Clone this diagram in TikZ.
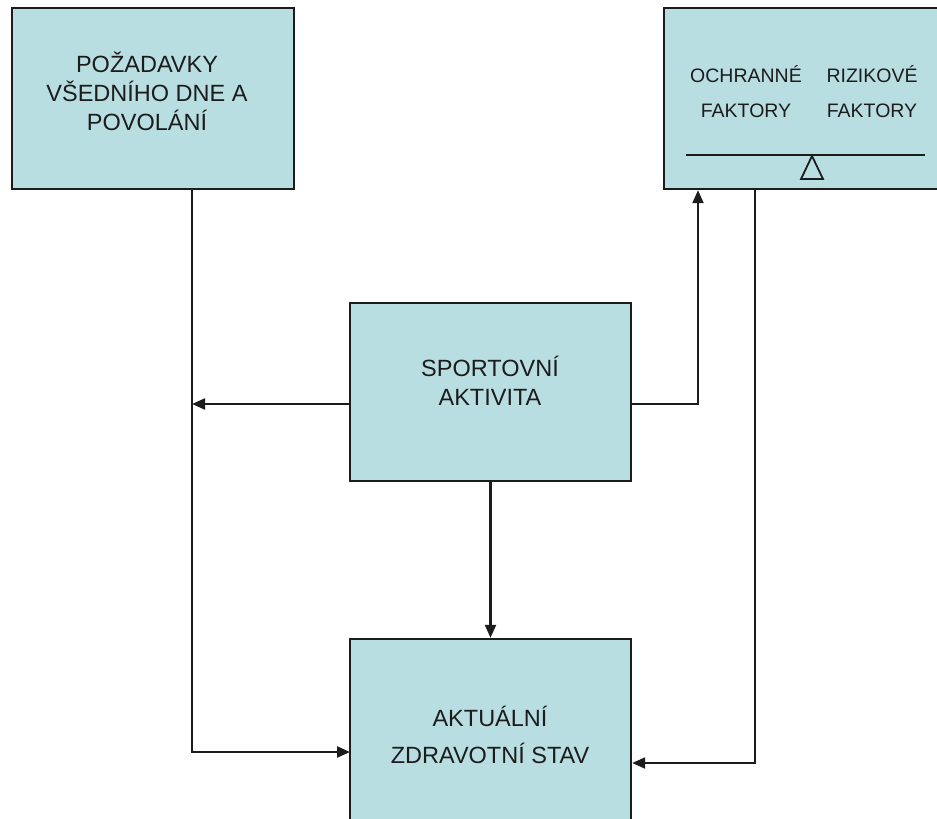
\documentclass[tikz,border=0pt]{standalone}
\usepackage{fontspec}
\setmainfont{Liberation Sans}
\usetikzlibrary{arrows.meta,calc}
\definecolor{boxfill}{RGB}{185,222,226}
\definecolor{ink}{RGB}{28,28,28}
\begin{document}
\begin{tikzpicture}[x=1pt,y=-1pt,
  box/.style={draw=ink, line width=2.4pt, fill=boxfill, inner sep=0pt},
  lbl/.style={align=center, font=\fontsize{23.5}{29}\selectfont, text=ink, inner sep=0pt},
  smalllbl/.style={align=center, font=\fontsize{19.5}{35}\selectfont, text=ink, inner sep=0pt},
  conn/.style={draw=ink, line width=2.2pt},
  arr/.style={conn, -{Triangle[length=13pt,width=11pt]}}
]
\useasboundingbox (0,0) rectangle (937,819);
\fill[white] (0,0) rectangle (937,819);
% boxes
\node[box, minimum width=282pt, minimum height=181pt] (req) at (153,98.5) {};
\node[box, minimum width=286pt, minimum height=181pt] (fac) at (807,98.5) {};
\node[box, minimum width=281pt, minimum height=178pt] (sport) at (490.5,392) {};
\node[box, minimum width=281pt, minimum height=200pt] (health) at (490.5,739) {};
% texts (anchor base = baseline of last line)
\node[lbl, anchor=base] (reqT) at (147,130) {POŽADAVKY\\VŠEDNÍHO DNE A\\POVOLÁNÍ};
\node[lbl, anchor=base] (sportT) at (490,405) {SPORTOVNÍ\\AKTIVITA};
\node[lbl, anchor=base] (healthT) at (490,763) {AKTUÁLNÍ\\[7.7pt]ZDRAVOTNÍ STAV};
\node[smalllbl, anchor=base] (prot) at (746,117) {OCHRANNÉ\\FAKTORY};
\node[smalllbl, anchor=base] (risk) at (872,117) {RIZIKOVÉ\\FAKTORY};
% balance
\coordinate (balL) at (686,155);
\coordinate (balR) at (925,155);
\draw[conn] (balL) -- (balR);
\coordinate (apex) at (812,156);
\draw[conn, line width=1.8pt, line join=miter] (apex) -- ++(-11,23) -- ++(22,0) -- cycle;
% connector junctions
\coordinate (jL) at (192,404);
\coordinate (hL) at (350,752);
\coordinate (fIn) at (698,404);
\coordinate (fOut) at (755,763);
% connectors
\draw[arr] (req.south -| jL) -- (jL |- hL) -- (hL);
\draw[arr] (sport.west |- jL) -- (jL);
\draw[arr] (sport.east |- fIn) -- (fIn) -- (fIn |- fac.south);
\draw[arr] (sport.south) -- (health.north);
\draw[arr] (fOut |- fac.south) -- (fOut) -- (fOut -| health.east);
\end{tikzpicture}
\end{document}
